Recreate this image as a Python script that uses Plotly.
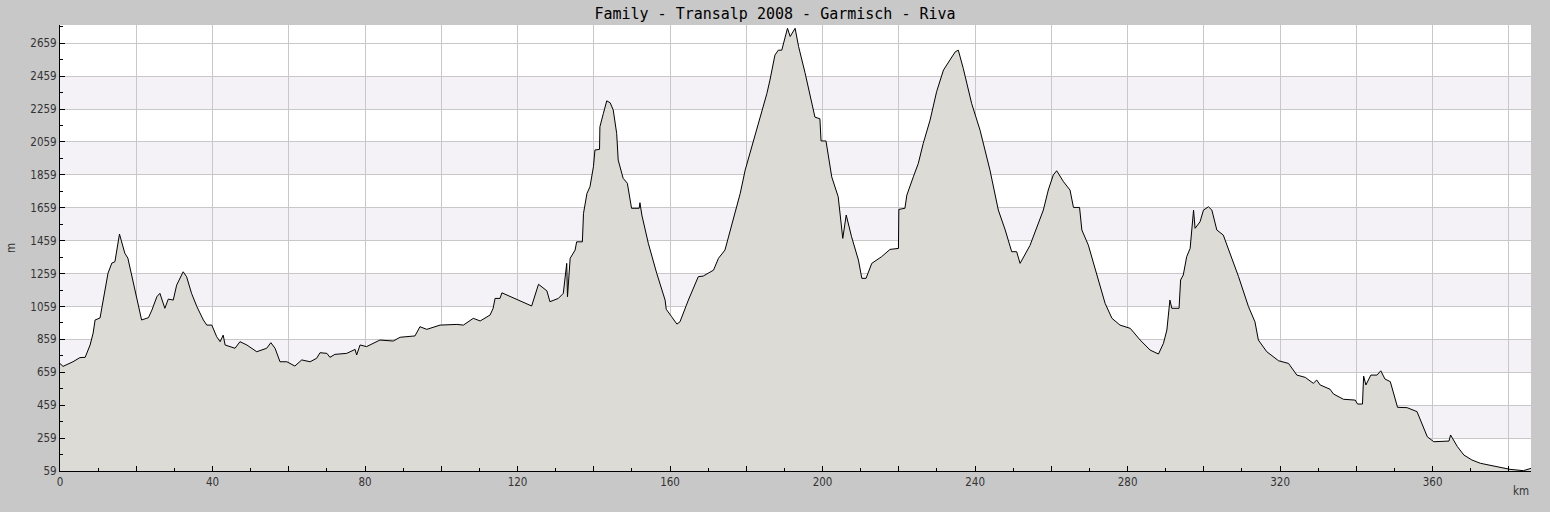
import plotly.graph_objects as go

# distance along route (km) and elevation (m)
dist_km = [
    0, 0.8, 3.4, 5.2, 6.6, 7.9, 8.7, 9.2, 10.5, 11.0, 11.8, 12.6, 13.6, 14.4, 15.6, 16.2, 17.0, 17.8,
    19.7, 21.4, 23.2, 24.1, 25.4, 26.2, 27.5, 28.4, 29.7, 30.6, 32.3, 33.2, 34.5, 35.9, 37.6, 38.5,
    39.8, 41.1, 42.0, 42.8, 43.3, 45.9, 47.2, 49.0, 51.6, 54.2, 55.3, 56.4, 57.7, 59.5, 61.6, 63.4,
    65.6, 67.3, 68.2, 70.0, 70.8, 72.1, 75.2, 77.4, 77.8, 78.7, 80.4, 83.9, 87.4, 89.2, 93.1, 94.4,
    96.2, 99.7, 104.1, 105.8, 108.4, 110.2, 112.8, 113.6, 114.1, 115.4, 115.9, 119.8, 123.7, 125.5,
    127.7, 128.5, 130.7, 132.0, 132.9, 133.1, 133.8, 135.1, 135.5, 137.0, 137.3, 138.2, 139.0, 139.9,
    140.3, 141.5, 141.6, 142.5, 143.4, 144.3, 145.1, 146.0, 146.4, 147.7, 148.8, 149.9, 151.9, 152.1,
    152.6, 154.3, 156.5, 158.7, 159.0, 160.4, 161.8, 162.6, 164.8, 167.4, 168.7, 171.4, 172.7, 174.4,
    176.2, 178.4, 179.7, 181.8, 183.6, 185.4, 186.2, 187.5, 188.4, 189.3, 190.8, 191.5, 192.8, 193.7,
    195.4, 196.7, 198.0, 199.3, 199.6, 200.9, 202.4, 204.1, 205.3, 206.2, 207.6, 209.4, 210.3, 211.4,
    212.9, 215.5, 217.7, 219.9, 220.0, 221.6, 222.1, 223.8, 225.1, 226.4, 228.2, 229.9, 231.7, 233.4,
    234.8, 235.6, 236.9, 239.1, 241.3, 243.9, 246.1, 247.9, 249.6, 250.9, 251.8, 254.4, 256.2, 257.9,
    259.2, 260.5, 261.4, 263.2, 264.9, 265.8, 267.4, 268.0, 269.7, 271.9, 274.1, 275.9, 278.0, 280.7,
    283.3, 285.9, 288.1, 289.4, 290.3, 291.1, 291.6, 293.5, 293.9, 294.6, 295.5, 296.4, 296.8, 297.3,
    297.7, 299.0, 299.9, 301.2, 302.1, 303.4, 305.1, 306.9, 309.1, 311.7, 313.4, 314.3, 316.5, 319.6,
    322.2, 324.4, 326.6, 328.7, 329.6, 330.5, 333.1, 334.0, 336.6, 339.7, 340.3, 341.6, 341.9, 342.5,
    343.8, 345.4, 346.4, 347.5, 348.9, 350.8, 353.3, 355.9, 358.6, 360.3, 364.3, 364.7, 366.5, 368.2,
    370.3, 372.5, 376.9, 380.3, 383.8, 385.8,
]
elev_m = [
    712, 695, 723, 748, 750, 825, 898, 977, 989, 1058, 1149, 1262, 1323, 1331, 1499, 1452, 1383, 1353,
    1149, 977, 991, 1037, 1118, 1139, 1048, 1104, 1098, 1189, 1270, 1240, 1139, 1058, 977, 946,
    946, 875, 845, 885, 825, 805, 845, 825, 784, 805, 839, 805, 723, 723, 697, 734,
    723, 744, 778, 774, 750, 768, 774, 798, 764, 825, 815, 855, 849, 872, 880, 936,
    920, 946, 950, 946, 987, 971, 1007, 1048, 1108, 1108, 1142, 1102, 1062, 1194,
    1154, 1088, 1108, 1139, 1321, 1118, 1352, 1402, 1452, 1452, 1625, 1746, 1787, 1908,
    2010, 2014, 2151, 2232, 2309, 2297, 2253, 2111, 1949, 1838, 1808, 1656, 1656, 1690,
    1615, 1443, 1261, 1098, 1042, 997, 952, 966, 1098, 1240, 1244, 1280, 1352, 1402,
    1564, 1746, 1888, 2060, 2192, 2354, 2435, 2587, 2617, 2617, 2750, 2700, 2750, 2640,
    2480, 2334, 2210, 2200, 2065, 2065, 1847, 1726, 1473, 1615, 1483, 1341, 1230, 1230,
    1321, 1362, 1406, 1412, 1649, 1656, 1736, 1847, 1928, 2050, 2192, 2364, 2496, 2557,
    2607, 2617, 2506, 2293, 2131, 1888, 1645, 1524, 1392, 1392, 1321, 1430, 1544, 1645,
    1767, 1858, 1884, 1817, 1767, 1661, 1661, 1524, 1432, 1261, 1078, 987, 946, 926,
    855, 794, 770, 835, 916, 1098, 1048, 1048, 1220, 1250, 1362, 1412, 1503, 1645,
    1534, 1574, 1645, 1665, 1645, 1524, 1493, 1382, 1240, 1058, 966, 855, 784, 729,
    713, 642, 628, 592, 612, 582, 556, 527, 495, 490, 466, 466, 636, 582,
    642, 642, 668, 618, 602, 446, 444, 420, 267, 237, 241, 278, 207, 156,
    126, 106, 85, 69, 61, 75,
]

title_text = "Family - Transalp 2008 - Garmisch - Riva"
x_major = list(range(0, 381, 20))
x_labels = [str(v) if v % 40 == 0 else "" for v in x_major]
y_major = list(range(59, 2660, 200))
band_starts = [259, 659, 1059, 1459, 1859, 2259]

X_MAX = 385.8
Y_MIN, Y_MAX = 59, 2770

fig = go.Figure()
fig.add_trace(go.Scatter(
    x=dist_km, y=elev_m, mode="lines", fill="tozeroy",
    line=dict(color="black", width=1), fillcolor="#dcdbd6",
    hoverinfo="skip", showlegend=False,
))

for b in band_starts:
    fig.add_shape(type="rect", xref="paper", yref="y", x0=0, x1=1, y0=b, y1=b + 200,
                  fillcolor="#f4f2f6", line_width=0, layer="below")

tick_font = dict(family="DejaVu Sans Condensed, DejaVu Sans, sans-serif", size=11.5, color="#333333")

fig.update_layout(
    width=1550, height=512,
    paper_bgcolor="#c8c8c8", plot_bgcolor="white",
    margin=dict(l=60, r=19, t=25, b=41),
    title=dict(text=title_text, x=0.5, xanchor="center", y=1 - 14 / 512, yanchor="middle",
               yref="container",
               font=dict(family="DejaVu Sans Mono, monospace", size=15, color="black")),
    showlegend=False,
    xaxis=dict(range=[0, X_MAX], tickmode="array", tickvals=x_major, ticktext=x_labels,
               showgrid=True, gridcolor="#c8c8c8", gridwidth=1,
               ticks="inside", ticklen=5, tickcolor="black", tickwidth=1,
               showline=True, linecolor="black", linewidth=1, zeroline=False,
               tickfont=tick_font,
               minor=dict(tickmode="linear", tick0=0, dtick=10, ticks="inside", ticklen=3,
                          tickcolor="black", showgrid=False)),
    yaxis=dict(range=[Y_MIN, Y_MAX], tickmode="array", tickvals=y_major,
               ticktext=[str(v) for v in y_major],
               showgrid=True, gridcolor="#c8c8c8", gridwidth=1,
               ticks="inside", ticklen=5, tickcolor="black", tickwidth=1,
               showline=True, linecolor="black", linewidth=1, zeroline=False,
               tickfont=tick_font,
               minor=dict(tickmode="linear", tick0=59, dtick=100, ticks="inside", ticklen=3,
                          tickcolor="black", showgrid=False)),
    annotations=[
        dict(text="m", xref="paper", yref="paper", x=(11 - 60) / 1471, y=0.5,
             showarrow=False, textangle=-90, font=tick_font, xanchor="center", yanchor="middle"),
        dict(text="km", xref="paper", yref="paper", x=(1521 - 60) / 1471, y=-20 / 446,
             showarrow=False, font=tick_font, xanchor="center", yanchor="middle"),
    ],
)

fig.write_html("out.html", config={"displayModeBar": False})

# remove the browser's default page margin so the figure sits at the window origin
with open("out.html", "r", encoding="utf-8") as fh:
    html = fh.read()
html = html.replace("<head>", "<head><style>html,body{margin:0;padding:0;}</style>", 1)
with open("out.html", "w", encoding="utf-8") as fh:
    fh.write(html)
